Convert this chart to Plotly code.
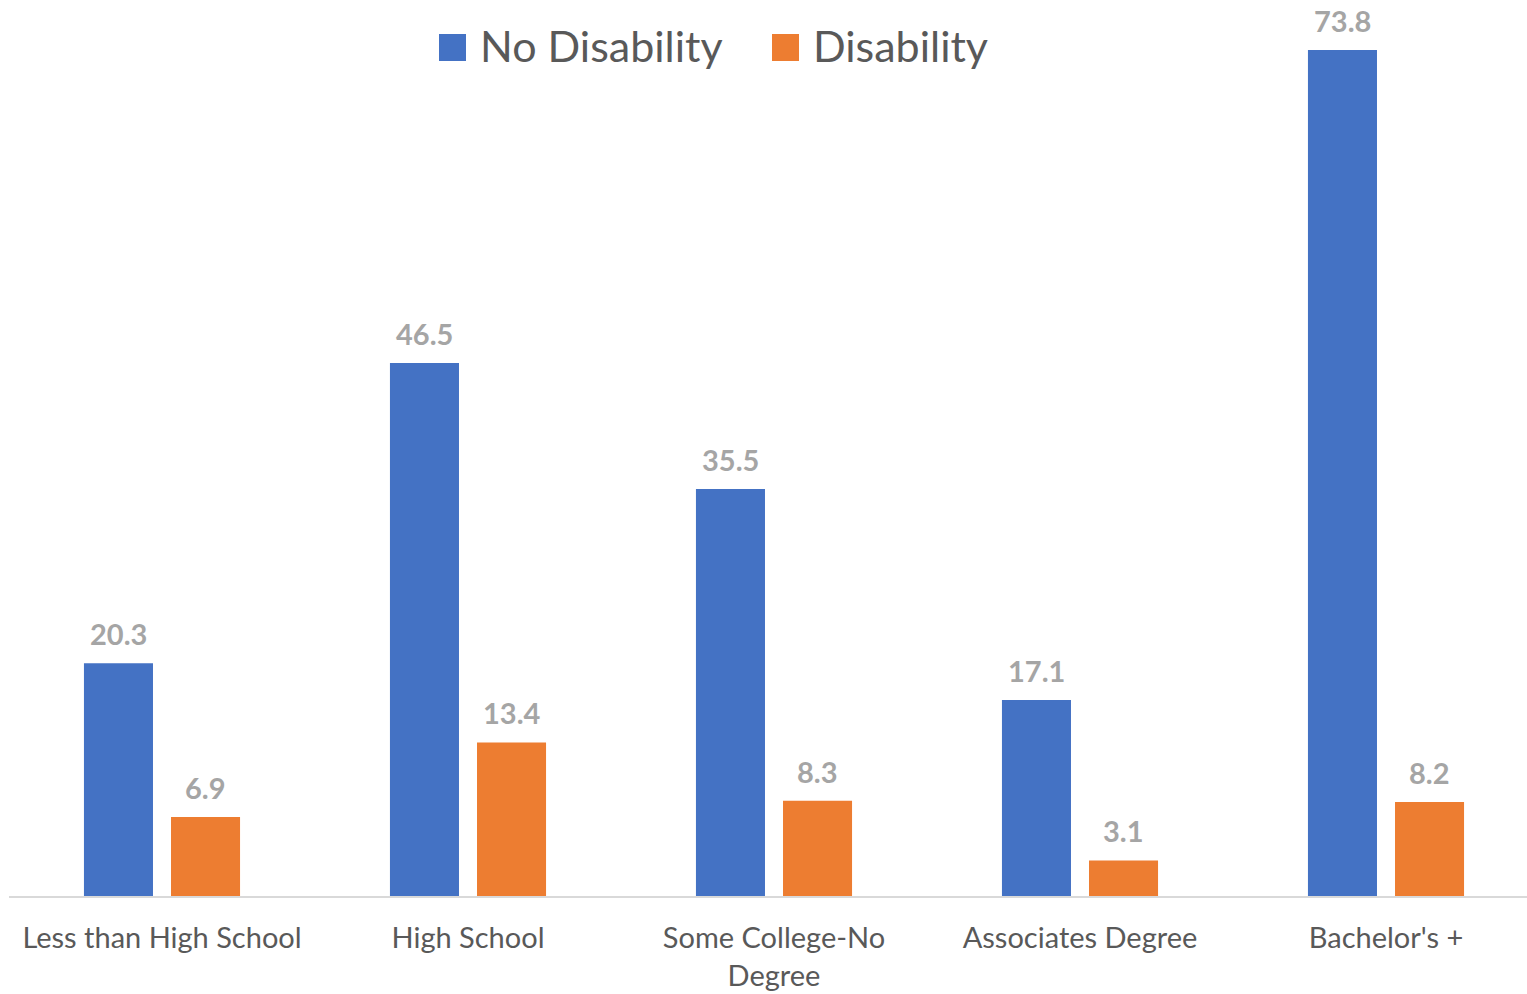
import plotly.graph_objects as go

# Education level categories and the two series
categories = ["Less than High School", "High School", "Some College-No<br>Degree",
              "Associates Degree", "Bachelor's +"]
no_disability = [20.3, 46.5, 35.5, 17.1, 73.8]
disability = [6.9, 13.4, 8.3, 3.1, 8.2]

series_names = ["No Disability", "Disability"]
series_colors = ["#4472C4", "#ED7D31"]

W, H = 1527, 994
L, B = 9, 98
plot_w = W - L
plot_h = H - B
cat_px = 306.0                      # width of one category slot in pixels
px_per_unit = 846 / 73.8            # vertical scale

fig = go.Figure()
for name, vals, col in zip(series_names, [no_disability, disability], series_colors):
    fig.add_trace(go.Bar(x=categories, y=vals, name=name, marker_color=col,
                         marker_line_width=0, showlegend=False))

# value labels above each bar
half_slot = 43.5
for vals, dx in [(no_disability, -half_slot), (disability, half_slot)]:
    for c, v in zip(categories, vals):
        fig.add_annotation(x=c, y=v, text=f"<b>{v}</b>", showarrow=False,
                           xshift=dx, yshift=10, yanchor="bottom",
                           font=dict(family="Lato", size=29, color="#A5A5A5"))

# legend drawn as swatches + labels across the top
def px_x(p):
    return (p - L) / plot_w

def px_y(p):
    return (plot_h - p) / plot_h

legend_items = [(439, 478), (772, 811)]
for (sx, tx), name, col in zip(legend_items, series_names, series_colors):
    fig.add_shape(type="rect", xref="paper", yref="paper",
                  x0=px_x(sx), x1=px_x(sx + 27), y0=px_y(61), y1=px_y(34),
                  fillcolor=col, line_width=0)
    fig.add_annotation(xref="paper", yref="paper", x=px_x(tx), y=px_y(46),
                       xanchor="left", yanchor="middle", text=name, showarrow=False,
                       font=dict(family="Lato", size=43, color="#595959"))

fig.update_layout(
    width=W, height=H,
    margin=dict(l=L, r=0, t=0, b=B, pad=0),
    paper_bgcolor="white", plot_bgcolor="white",
    barmode="group", bargap=0.431, bargroupgap=0.207,
    xaxis=dict(range=[-0.5, -0.5 + plot_w / cat_px], showline=True,
               linecolor="#D9D9D9", linewidth=2, ticks="", showgrid=False,
               tickfont=dict(family="Lato", size=29, color="#595959"),
               ticklabelstandoff=15),
    yaxis=dict(range=[0, plot_h / px_per_unit], visible=False, showgrid=False),
)

fig.write_html("out.html")
